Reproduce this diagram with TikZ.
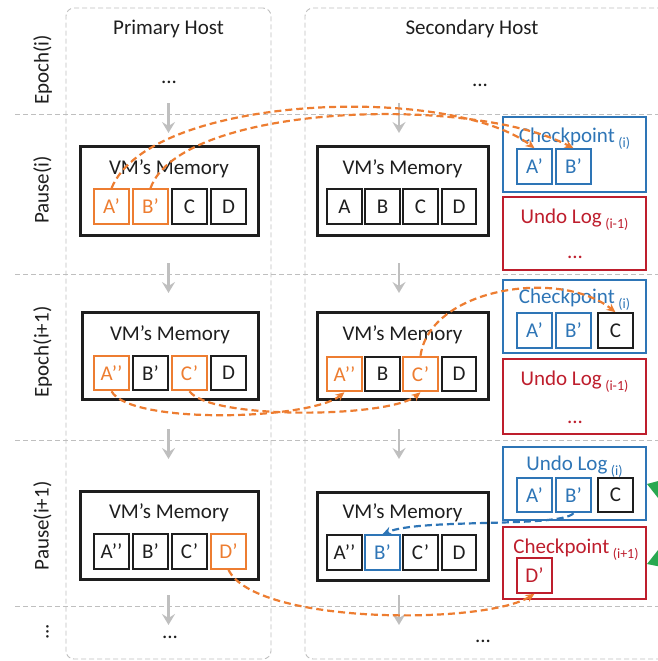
\documentclass[tikz,border=0pt]{standalone}
\usepackage{fontspec}
\setmainfont{Carlito}
\usetikzlibrary{arrows.meta}
\definecolor{cOr}{RGB}{237,125,49}
\definecolor{cBlue}{RGB}{46,117,182}
\definecolor{cRed}{RGB}{190,30,45}
\definecolor{cGreen}{RGB}{40,168,80}
\definecolor{cGray}{RGB}{191,191,191}
\definecolor{cInk}{RGB}{30,30,30}
\newcommand\subsc[1]{{\fontsize{14}{14}\selectfont\raisebox{-5pt}{#1}}}
\begin{document}
\begin{tikzpicture}[x=1pt,y=-1pt,
  font=\fontsize{21}{25}\selectfont, text=cInk,
  gridline/.style={draw=cGray, line width=0.9pt, dash pattern=on 5pt off 3pt},
  colbox/.style={draw=cGray, line width=0.9pt, dash pattern=on 5pt off 3pt, rounded corners=8pt, inner sep=0},
  flow/.style={draw=cGray, line width=2.6pt, -{Stealth[length=11pt,width=13pt,inset=4pt]}},
  mem/.style={draw=cInk, line width=3pt, inner sep=0},
  cell/.style={draw=cInk, line width=2pt, minimum width=34.5pt, minimum height=34.5pt, inner sep=0},
  ocell/.style={cell, draw=cOr, text=cOr},
  bcell/.style={cell, draw=cBlue, text=cBlue},
  rcell/.style={cell, draw=cRed, text=cRed},
  bbox/.style={draw=cBlue, line width=2.8pt, inner sep=0, minimum width=143pt},
  rbox/.style={draw=cRed, line width=2.8pt, inner sep=0, minimum width=143pt},
  oarr/.style={draw=cOr, line width=2.2pt, dash pattern=on 7pt off 4pt, -{Stealth[length=9pt,width=8pt]}},
  barr/.style={draw=cBlue, line width=2.2pt, dash pattern=on 7pt off 4pt, -{Stealth[length=9pt,width=8pt]}},
  lbl/.style={anchor=base, rotate=90}
]
\useasboundingbox (0,0) rectangle (658,661);

% columns
\node[colbox, minimum width=205pt, minimum height=651pt] (prim) at (168.5,333.5) {};
\node[colbox, minimum width=365pt, minimum height=651pt] (sec) at (487.5,333.5) {};

% row separators
\foreach \yy in {114,274,440,606} \draw[gridline] (15,\yy) -- (658,\yy);

% headings
\node[anchor=base] (ph) at (168.5,35) {Primary Host};
\node[anchor=base] (sh) at (472,35) {Secondary Host};

% row labels
\node[lbl] (l1) at (48.5,70) {Epoch(i)};
\node[lbl] (l2) at (48.5,190) {Pause(i)};
\node[lbl] (l3) at (48.5,352) {Epoch(i+1)};
\node[lbl] (l4) at (48.5,526) {Pause(i+1)};
\node[lbl] (l5) at (48.5,632) {...};

% dots
\node[anchor=base] (pd1) at (169,83) {...};
\node[anchor=base] (sd1) at (480,86) {...};
\node[anchor=base] (pd2) at (170,638) {...};
\node[anchor=base] (sd2) at (483,642) {...};

% gray flow arrows
\foreach \xx in {168.5,399} {
  \foreach \yy in {114,274,440,606} {
    \coordinate (fa) at (\xx,\yy-11);
    \coordinate (fb) at (\xx,\yy+19);
    \draw[flow] (fa) -- (fb);
  }
}

% ---------- Row 2: Pause(i)
\node[mem, minimum width=178pt, minimum height=89pt] (pm1) at (169,190.5) {};
\node[anchor=base] (pm1t) at (169,174) {VM’s Memory};
\node[ocell] (p1a) at (111.5,206.5) {A’};
\node[ocell] (p1b) at (150.5,206.5) {B’};
\node[cell]  (p1c) at (189.5,206.5) {C};
\node[cell]  (p1d) at (228.5,206.5) {D};

\node[mem, minimum width=171pt, minimum height=89pt] (sm1) at (402.5,190.5) {};
\node[anchor=base] (sm1t) at (402.5,174) {VM’s Memory};
\node[cell] (s1a) at (344.5,206.5) {A};
\node[cell] (s1b) at (382.5,206.5) {B};
\node[cell] (s1c) at (420.5,206.5) {C};
\node[cell] (s1d) at (459,206.5) {D};

\node[bbox, minimum height=75pt] (ck1) at (574.5,154.5) {};
\node[anchor=base, text=cBlue] (ck1t) at (574.5,142) {Checkpoint\,\subsc{(i)}};
\node[bcell] (k1a) at (534.5,166.5) {A’};
\node[bcell] (k1b) at (573.5,166.5) {B’};

\node[rbox, minimum height=73pt] (ul1) at (574.5,233.5) {};
\node[anchor=base, text=cRed] (ul1t) at (574.5,223) {Undo Log\,\subsc{(i-1)}};
\node[anchor=base, text=cRed] (ul1d) at (575,258) {...};

\draw[oarr] (p1a.north) .. controls (150,94) and (450,84) .. (k1a.north);
\draw[oarr] (p1b.north) .. controls (180,104) and (470,94) .. (k1b.north);

% ---------- Row 3: Epoch(i+1)
\node[mem, minimum width=176pt, minimum height=87.5pt] (pm2) at (170,356) {};
\node[anchor=base] (pm2t) at (170,340) {VM’s Memory};
\node[ocell] (p2a) at (111.5,373) {A’’};
\node[cell]  (p2b) at (150.5,373) {B’};
\node[ocell] (p2c) at (189.5,373) {C’};
\node[cell]  (p2d) at (228.5,373) {D};

\node[mem, minimum width=171pt, minimum height=87.5pt] (sm2) at (402.5,356) {};
\node[anchor=base] (sm2t) at (402.5,340) {VM’s Memory};
\node[ocell] (s2a) at (344.5,374) {A’’};
\node[cell]  (s2b) at (382.5,374) {B};
\node[ocell] (s2c) at (420.5,374) {C’};
\node[cell]  (s2d) at (459,374) {D};

\node[bbox, minimum height=73pt] (ck2) at (574.5,316.5) {};
\node[anchor=base, text=cBlue] (ck2t) at (574.5,303) {Checkpoint\,\subsc{(i)}};
\node[bcell] (k2a) at (534.5,330.5) {A’};
\node[bcell] (k2b) at (573.5,330.5) {B’};
\node[cell]  (k2c) at (615.5,330.5) {C};

\node[rbox, minimum height=75pt] (ul2) at (574.5,396.5) {};
\node[anchor=base, text=cRed] (ul2t) at (574.5,385) {Undo Log\,\subsc{(i-1)}};
\node[anchor=base, text=cRed] (ul2d) at (575,423) {...};

\draw[oarr] (p2a.south) .. controls (130,425) and (310,420) .. (s2a.south);
\draw[oarr] (p2c.south) .. controls (210,420) and (390,418) .. (s2c.south);
\draw[oarr] (s2c.north) .. controls (430,288) and (560,268) .. (k2c.north);

% ---------- Row 4: Pause(i+1)
\node[mem, minimum width=178pt, minimum height=88pt] (pm3) at (169,535) {};
\node[anchor=base] (pm3t) at (169,518) {VM’s Memory};
\node[cell]  (p3a) at (111.5,551.5) {A’’};
\node[cell]  (p3b) at (150.5,551.5) {B’};
\node[cell]  (p3c) at (189.5,551.5) {C’};
\node[ocell] (p3d) at (228.5,551.5) {D’};

\node[mem, minimum width=171pt, minimum height=88pt] (sm3) at (402.5,536) {};
\node[anchor=base] (sm3t) at (402.5,518) {VM’s Memory};
\node[cell]  (s3a) at (344.5,552.5) {A’’};
\node[bcell] (s3b) at (382.5,552.5) {B’};
\node[cell]  (s3c) at (420.5,552.5) {C’};
\node[cell]  (s3d) at (459,552.5) {D};

\node[bbox, minimum height=73pt] (ul3) at (574.5,483.5) {};
\node[anchor=base, text=cBlue] (ul3t) at (574.5,470) {Undo Log\,\subsc{(i)}};
\node[bcell] (u3a) at (534.5,495) {A’};
\node[bcell] (u3b) at (573.5,495) {B’};
\node[cell]  (u3c) at (615.5,495) {C};

\node[rbox, minimum height=72pt] (ck3) at (574.5,563) {};
\node[anchor=base, text=cRed] (ck3t) at (576,553) {Checkpoint\,\subsc{(i+1)}};
\node[rcell] (k3d) at (534.5,575.5) {D’};

\draw[barr] (u3b.south) .. controls (560,528) and (420,518) .. (s3b.north);
\draw[oarr] (p3d.south) .. controls (255,625) and (485,625) .. (k3d.south);

% green arrow tips at right edge
\fill[cGreen] (647,484) -- (662,480) -- (662,503) -- cycle;
\fill[cGreen] (647,564) -- (662,567) -- (662,545) -- cycle;
\end{tikzpicture}
\end{document}
